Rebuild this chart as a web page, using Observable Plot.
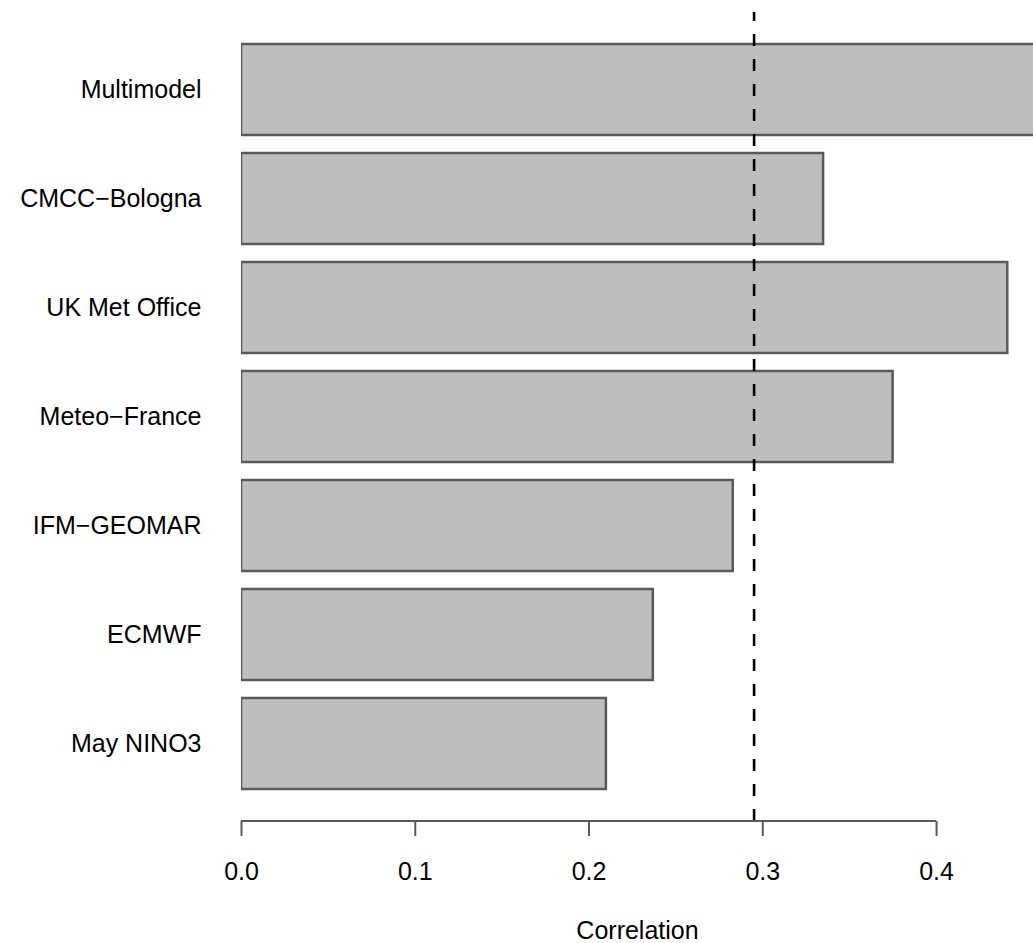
<!DOCTYPE html>
<html>
<head>
<meta charset="utf-8">
<script src="https://cdn.jsdelivr.net/npm/d3@7"></script>
<script src="https://cdn.jsdelivr.net/npm/@observablehq/plot@0.6"></script>
<style>
  html, body { margin: 0; padding: 0; background: #fff; overflow: hidden; }
</style>
</head>
<body>
<div id="chart"></div>
<script>
// ---- data ----
const models = ["Multimodel", "CMCC\u2212Bologna", "UK Met Office", "Meteo\u2212France", "IFM\u2212GEOMAR", "ECMWF", "May NINO3"];
const correlations = [0.47, 0.335, 0.441, 0.375, 0.283, 0.237, 0.210];
const threshold = [0.295];
const xTicks = [0.0, 0.1, 0.2, 0.3, 0.4];
const xLabel = "Correlation";

const data = models.map((m, i) => ({model: m, r: correlations[i]}));
const FONT = "'Liberation Sans', Arial, Helvetica, sans-serif";

// axis baseline spanning the first to last tick, drawn through the x scale
const axisBaseline = (index, scales, values, dims) => {
  const y = dims.height - dims.marginBottom;
  const line = document.createElementNS("http://www.w3.org/2000/svg", "line");
  line.setAttribute("x1", scales.x(xTicks[0]));
  line.setAttribute("x2", scales.x(xTicks[xTicks.length - 1]));
  line.setAttribute("y1", y);
  line.setAttribute("y2", y);
  line.setAttribute("stroke", "#5a5a5a");
  line.setAttribute("stroke-width", 2);
  return line;
};

const chart = Plot.plot({
  width: 1033,
  height: 943,
  marginLeft: 241,
  marginRight: 0,
  marginTop: 12,
  marginBottom: 122,
  style: {fontFamily: FONT, fontSize: "25px", background: "#fff", color: "#000"},
  x: {domain: [0, 0.4558], ticks: xTicks},
  y: {domain: models, paddingInner: 0.2 / 1.2, paddingOuter: 0.2733, align: 0.5},
  marks: [
    Plot.barX(data, {
      x: "r", y: "model",
      fill: "#bebebe", stroke: "#5a5a5a", strokeWidth: 2.5,
      clip: true
    }),
    Plot.ruleX(threshold, {
      stroke: "#000", strokeWidth: 2.6,
      strokeDasharray: "12,13", strokeDashoffset: 3
    }),
    axisBaseline,
    Plot.axisX({
      ticks: xTicks,
      tickFormat: d3.format(".1f"),
      tickSize: 15,
      tickPadding: 26,
      stroke: "#5a5a5a",
      strokeWidth: 2,
      fill: "#000",
      fontSize: 25,
      label: null
    }),
    Plot.axisY({
      tickSize: 0,
      tickPadding: 40,
      fill: "#000",
      fontSize: 25,
      label: null
    }),
    Plot.text([xLabel], {
      frameAnchor: "bottom",
      dy: 109,
      lineAnchor: "middle",
      fontSize: 25,
      fill: "#000"
    })
  ]
});

document.getElementById("chart").appendChild(chart);
</script>
</body>
</html>
